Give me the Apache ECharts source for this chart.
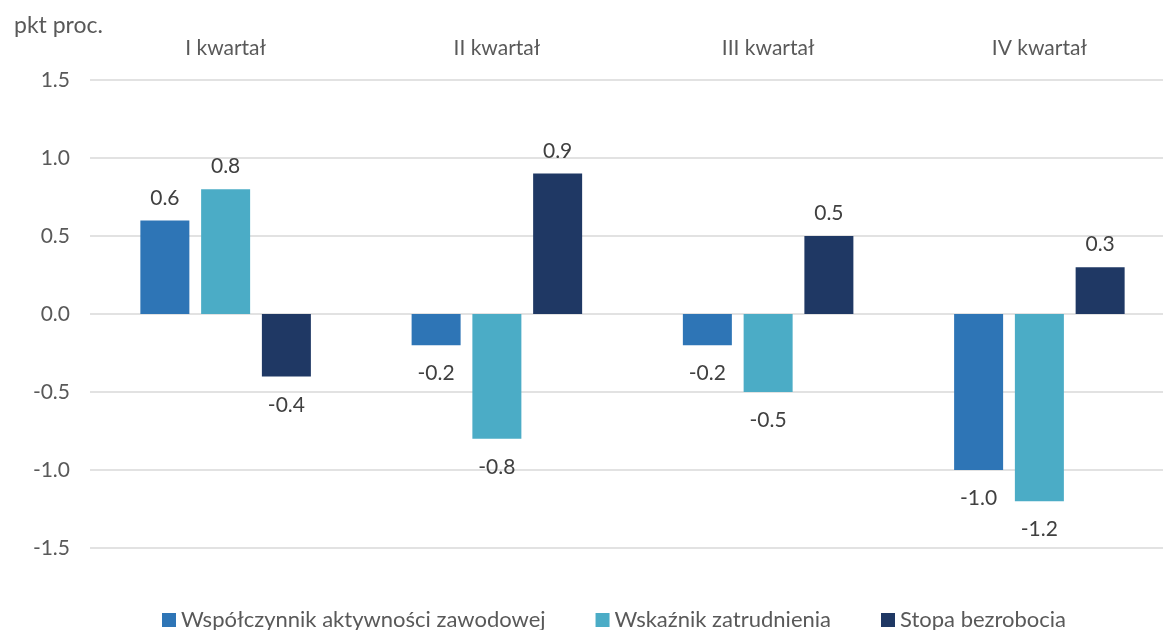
<!DOCTYPE html>
<html>
<head>
<meta charset="utf-8">
<script src="https://cdn.jsdelivr.net/npm/echarts@6/dist/echarts.min.js"></script>
<style>
  html, body { margin: 0; padding: 0; background: #fff; overflow: hidden; }
  /* siatka wychodzi poza prawą krawędź, tak jak w oryginale */
  #chart { width: 1175px; height: 630px; }
</style>
</head>
<body>
<div id="chart"></div>
<script>
// kwartały
const quarters = ["I kwartał", "II kwartał", "III kwartał", "IV kwartał"];
// zmiany w pkt proc.
const activityRate = [0.6, -0.2, -0.2, -1.0];
const employmentRate = [0.8, -0.8, -0.5, -1.2];
const unemploymentRate = [-0.4, 0.9, 0.5, 0.3];

const seriesNames = ["Współczynnik aktywności zawodowej", "Wskaźnik zatrudnienia", "Stopa bezrobocia"];
const colors = ["#2E75B6", "#4BACC6", "#1F3864"];

const font = "Lato, 'Noto Sans', sans-serif";

function makeSeries(name, data, color) {
  return {
    name: name,
    type: "bar",
    barWidth: 49,
    barGap: "24%",
    itemStyle: { color: color },
    // ujemne wartości - etykieta pod słupkiem
    data: data.map((v) => ({
      value: v,
      label: { position: v < 0 ? "bottom" : "top", distance: v < 0 ? 18 : 12 },
    })),
    label: {
      show: true,
      fontFamily: font,
      fontSize: 21,
      color: "#404040",
      formatter: (p) => p.value.toFixed(1),
    },
  };
}

const chart = echarts.init(document.getElementById("chart"));

chart.setOption({
  backgroundColor: "#fff",
  animation: false,
  textStyle: { fontFamily: font },
  title: {
    text: "pkt proc.",
    left: 9,
    top: 9,
    textStyle: { fontFamily: font, fontSize: 23, fontWeight: "normal", color: "#595959" },
  },
  legend: {
    top: 604,
    left: 157,
    itemWidth: 14,
    itemHeight: 14,
    itemGap: 50,
    icon: "rect",
    textStyle: { fontFamily: font, fontSize: 22, color: "#595959" },
    data: seriesNames,
  },
  grid: {
    left: 90,
    right: 0,
    top: 80,
    bottom: 82,
    containLabel: false,
  },
  xAxis: {
    type: "category",
    position: "top",
    data: quarters,
    axisLine: { show: false },
    axisTick: { show: false },
    axisLabel: {
      margin: 21,
      fontFamily: font,
      fontSize: 21,
      color: "#595959",
    },
  },
  yAxis: {
    type: "value",
    min: -1.5,
    max: 1.5,
    interval: 0.5,
    axisLine: { show: false },
    axisTick: { show: false },
    axisLabel: {
      margin: 20,
      fontFamily: font,
      fontSize: 21,
      color: "#595959",
      formatter: (v) => v.toFixed(1),
    },
    splitLine: { lineStyle: { color: "#D9D9D9", width: 1.5 } },
  },
  series: [
    makeSeries(seriesNames[0], activityRate, colors[0]),
    makeSeries(seriesNames[1], employmentRate, colors[1]),
    makeSeries(seriesNames[2], unemploymentRate, colors[2]),
  ],
});
</script>
</body>
</html>
